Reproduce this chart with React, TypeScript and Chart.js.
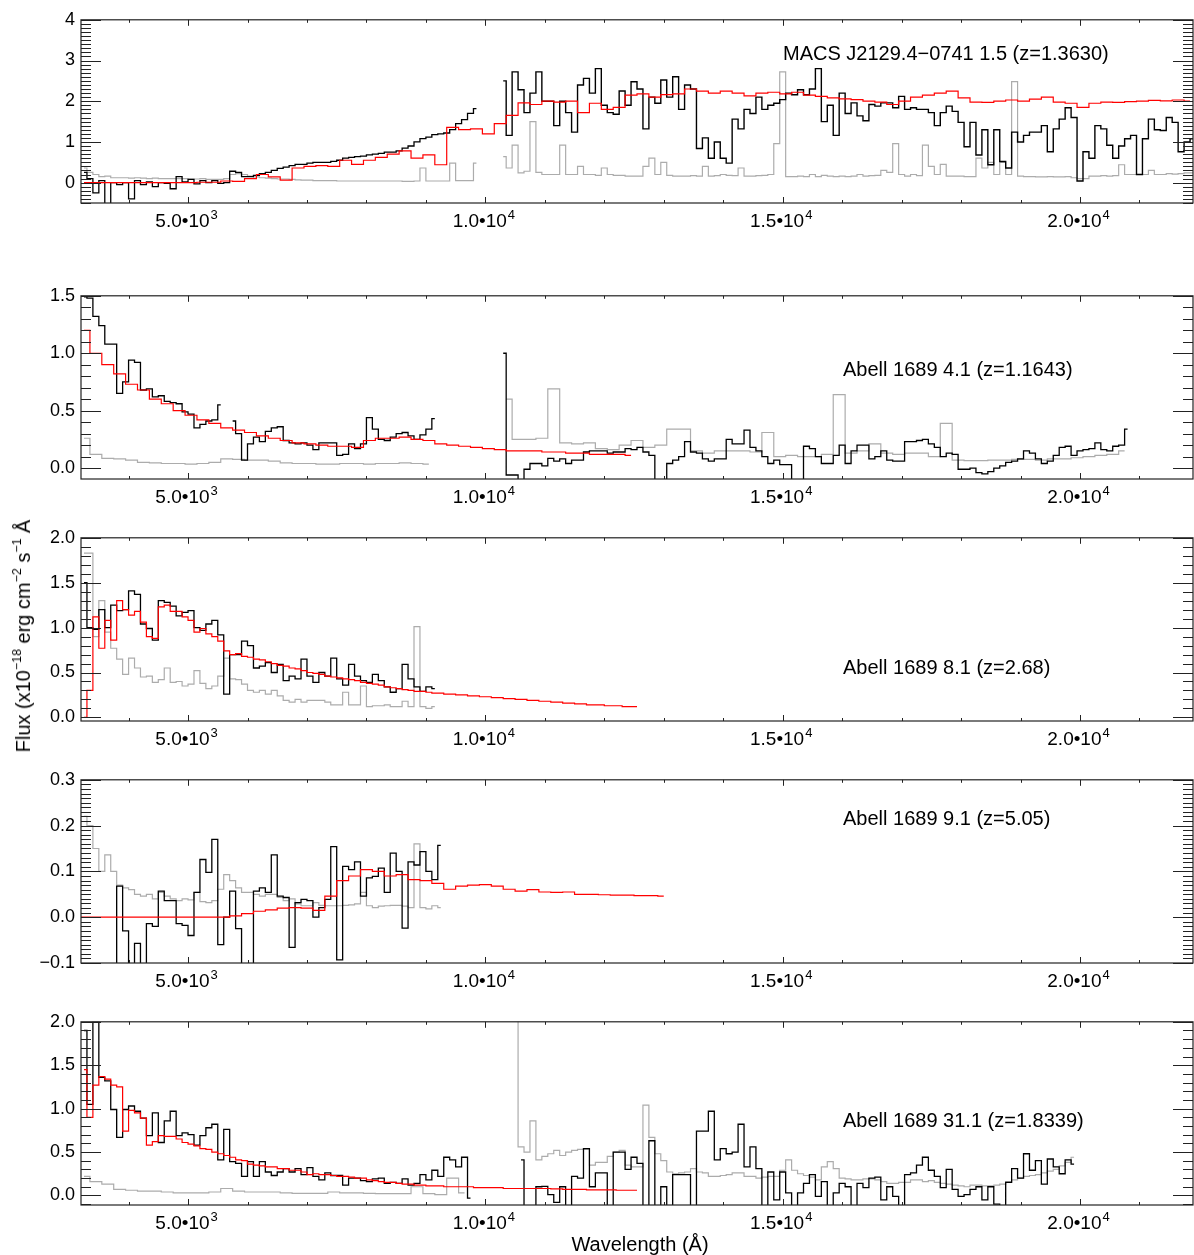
import React, { useEffect, useRef } from 'react';
import { Chart, registerables } from 'chart.js';

Chart.register(...registerables);

const FONT = '"Liberation Sans", Arial, Helvetica, sans-serif';
Chart.defaults.font.family = FONT;

// ---------- X axis (wavelength, Angstrom) ----------
const X_MIN = 3200;
const X_MAX = 21900;
const X_MAJOR_TICKS = [5000, 10000, 15000, 20000];
const X_TICK_MANTISSA = ['5.0•10', '1.0•10', '1.5•10', '2.0•10'];
const X_TICK_EXPONENT = ['3', '4', '4', '4'];
const X_MINOR_STEP = 1000;

// ---------- Panel 1 : MACS J2129.4-0741 1.5 ----------
const P1_BLACK_OPT_START = 3250;
const P1_BLACK_OPT = [0.25, 0.1, -0.25, 0.05, -0.55, 0.0, -0.05, 0.0, -0.4, 0.05,
  -0.05, 0.02, -0.1, 0.0, -0.02, -0.15, 0.15, 0.02, 0.08, -0.03,
  0.05, 0.0, 0.05, -0.02, 0.0, 0.28, 0.25, 0.15, 0.15, 0.18,
  0.22, 0.25, 0.3, 0.35, 0.38, 0.42, 0.45, 0.45, 0.48, 0.5,
  0.5, 0.5, 0.52, 0.55, 0.6, 0.62, 0.64, 0.65, 0.68, 0.7,
  0.72, 0.75, 0.75, 0.78, 0.85, 0.9, 1.0, 1.08, 1.12, 1.18,
  1.2, 1.22, 1.3, 1.45, 1.55, 1.7, 1.82];
const P1_GRAY_OPT_START = 3250;
const P1_GRAY_OPT = [0.36, 0.25, 0.2, 0.15, 0.16, 0.12, 0.12, 0.12, 0.11, 0.12,
  0.11, 0.1, 0.11, 0.1, 0.1, 0.1, 0.1, 0.1, 0.09, 0.09,
  0.1, 0.08, 0.08, 0.08, 0.1, 0.2, 0.22, 0.2, 0.16, 0.14,
  0.12, 0.11, 0.1, 0.09, 0.09, 0.08, 0.07, 0.06, 0.06, 0.05,
  0.05, 0.05, 0.05, 0.04, 0.04, 0.04, 0.04, 0.04, 0.04, 0.04,
  0.04, 0.04, 0.04, 0.04, 0.03, 0.03, 0.04, 0.36, 0.04, 0.04,
  0.04, 0.04, 0.48, 0.05, 0.05, 0.05, 0.48];
const P1_BLACK_IR_START = 10300;
const P1_BLACK_IR = [2.5, 1.16, 2.72, 2.28, 1.72, 2.2, 2.72, 2.0, 2.0, 1.4,
  2.0, 1.72, 1.24, 2.4, 2.56, 2.2, 2.8, 1.9, 1.72, 1.68,
  2.25, 1.9, 2.48, 2.3, 1.32, 2.1, 1.95, 2.52, 2.1, 2.6,
  1.8, 2.4, 2.3, 0.84, 1.1, 0.6, 1.0, 0.6, 0.48, 1.56,
  1.32, 1.8, 1.7, 2.1, 1.8, 1.9, 1.95, 2.04, 2.2, 2.16,
  2.28, 2.16, 2.3, 2.8, 1.5, 1.9, 1.16, 2.2, 1.7, 1.96,
  1.64, 1.52, 1.92, 1.88, 1.96, 1.96, 1.84, 2.12, 1.8, 1.84,
  1.8, 1.8, 1.72, 1.4, 1.72, 1.88, 1.75, 1.48, 0.88, 1.48,
  0.68, 1.3, 0.44, 1.3, 0.52, 0.36, 1.24, 1.0, 1.16, 1.24,
  1.24, 1.4, 0.76, 1.32, 1.56, 1.84, 1.6, 0.04, 0.76, 0.6,
  1.4, 1.32, 0.92, 0.6, 0.9, 1.08, 1.16, 0.2, 1.08, 1.56,
  1.3, 1.28, 1.6, 1.48, 0.76, 1.0, 1.08];
const P1_GRAY_IR_START = 10300;
const P1_GRAY_IR = [0.64, 0.36, 0.92, 0.24, 0.28, 1.5, 0.25, 0.2, 0.2, 0.2,
  0.92, 0.2, 0.2, 0.4, 0.2, 0.2, 0.18, 0.36, 0.2, 0.18,
  0.18, 0.16, 0.16, 0.16, 0.4, 0.6, 0.2, 0.5, 0.18, 0.16,
  0.16, 0.16, 0.17, 0.16, 0.4, 0.16, 0.17, 0.2, 0.18, 0.17,
  0.36, 0.16, 0.16, 0.17, 0.18, 0.2, 0.96, 2.72, 0.15, 0.15,
  0.16, 0.15, 0.2, 0.15, 0.18, 0.16, 0.15, 0.16, 0.15, 0.16,
  0.2, 0.16, 0.17, 0.18, 0.3, 0.25, 0.96, 0.2, 0.16, 0.2,
  0.17, 0.92, 0.4, 0.2, 0.45, 0.16, 0.16, 0.16, 0.15, 0.15,
  0.6, 0.36, 0.5, 0.2, 0.5, 0.2, 2.48, 0.16, 0.15, 0.15,
  0.14, 0.14, 0.15, 0.14, 0.14, 0.15, 0.12, 0.1, 0.1, 0.16,
  0.16, 0.17, 0.16, 0.17, 0.44, 0.2, 0.2, 0.2, 0.2, 0.3,
  0.2, 0.2, 0.22, 0.21, 0.22, 0.24, 0.24];
const P1_RED_START = 3250;
const P1_RED = [0, 0, 0, 0, 0, 0, 0, 0, 0, 0,
  0.01, 0.01, 0.04, 0.03, 0.1, 0.2, 0.14, 0.06, 0.36, 0.4,
  0.42, 0.4, 0.55, 0.45, 0.55, 0.62, 0.7, 0.78, 0.6, 0.68,
  0.44, 1.36, 1.3, 1.32, 1.2, 1.45, 1.65, 1.96, 1.92, 2.0,
  1.98, 2.0, 1.72, 1.95, 1.8, 1.85, 2.15, 2.18, 2.1, 2.16,
  2.18, 2.3, 2.25, 2.2, 2.25, 2.2, 2.13, 2.2, 2.22, 2.18,
  2.22, 2.15, 2.12, 2.08, 2.06, 2.04, 2.0, 1.98, 1.92, 2.0,
  2.1, 2.15, 2.2, 2.25, 2.08, 1.98, 1.97, 2.0, 2.03, 2.0,
  2.05, 2.1, 1.98, 1.95, 1.85, 1.95, 1.98, 1.97, 1.99, 2.0,
  2.02, 2.01, 2.03, 2.0];
const P1_Y_TICKS = [0, 1, 2, 3, 4];
const P1_Y_LABELS = ['0', '1', '2', '3', '4'];

// ---------- Panel 2 : Abell 1689 4.1 ----------
const P2_BLACK_OPT_START = 3250;
const P2_BLACK_OPT = [1.49, 1.48, 1.32, 1.24, 1.08, 1.08, 0.65, 0.75, 0.94, 0.92,
  0.68, 0.69, 0.62, 0.63, 0.58, 0.57, 0.56, 0.49, 0.47, 0.35,
  0.38, 0.41, 0.42, 0.55, null, 0.41, 0.3, 0.07, 0.21, 0.27,
  0.23, 0.32, 0.35, 0.36, 0.24, 0.22, 0.21, 0.22, 0.2, 0.16,
  0.22, 0.22, 0.22, 0.11, 0.12, 0.21, 0.17, 0.21, 0.44, 0.34,
  0.25, 0.24, 0.27, 0.3, 0.31, 0.28, 0.25, 0.29, 0.34, 0.43];
const P2_BLACK_IR_START = 10300;
const P2_BLACK_IR = [1.0, -0.06, -0.06, -0.15, -0.01, 0.04, 0.04, 0.02, 0.085, 0.06,
  0.08, 0.04, 0.07, 0.07, 0.14, 0.15, 0.15, 0.15, 0.13, 0.14,
  0.14, 0.17, 0.16, 0.18, 0.14, 0.11, -0.15, -0.15, 0.04, 0.07,
  0.1, 0.23, 0.14, 0.13, 0.08, 0.06, 0.08, 0.08, 0.25, 0.21,
  0.21, 0.33, 0.18, 0.15, 0.1, 0.04, 0.07, 0.03, 0.03, -0.15,
  -0.15, 0.19, 0.17, 0.1, 0.04, 0.04, 0.11, 0.2, 0.04, 0.15,
  0.2, 0.2, 0.08, 0.1, 0.15, 0.07, 0.06, 0.06, 0.23, 0.23,
  0.24, 0.25, 0.21, 0.18, 0.1, 0.13, 0.12, -0.01, -0.01, 0.0,
  -0.04, -0.05, -0.03, 0.0, 0.02, 0.05, 0.06, 0.08, 0.15, 0.13,
  0.08, 0.04, 0.06, 0.11, 0.18, 0.19, 0.11, 0.15, 0.16, 0.17,
  0.22, 0.16, 0.15, 0.19, 0.2, 0.34];
const P2_RED_START = 3250;
const P2_RED = [1.2, 1.0, 0.9, 0.82, 0.73, 0.68, 0.6, 0.56, 0.5, 0.46,
  0.42, 0.39, 0.35, 0.33, 0.31, 0.28, 0.26, 0.24, 0.22, 0.21,
  0.2, 0.19, 0.19, 0.18, 0.24, 0.26, 0.26, 0.27, 0.25, 0.24,
  0.21, 0.2, 0.19, 0.18, 0.17, 0.16, 0.15, 0.15, 0.15, 0.14,
  0.14, 0.13, 0.13, 0.12, 0.12, 0.12, 0.11];
const P2_GRAY_OPT_START = 3250;
const P2_GRAY_OPT = [0.26, 0.12, 0.085, 0.08, 0.07, 0.05, 0.045, 0.04, 0.04, 0.035,
  0.04, 0.05, 0.08, 0.075, 0.07, 0.07, 0.06, 0.045, 0.04, 0.04,
  0.035, 0.035, 0.04, 0.04, 0.035, 0.04, 0.04, 0.045, 0.04, 0.035];
const P2_GRAY_IR_START = 10350;
const P2_GRAY_IR = [0.6, 0.25, 0.25, 0.26, 0.69, 0.22, 0.21, 0.22, 0.17, 0.16,
  0.2, 0.24, 0.18, 0.2, 0.34, 0.34, 0.15, 0.13, 0.15, 0.15,
  0.15, 0.14, 0.31, 0.1, 0.11, 0.1, 0.1, 0.12, 0.64, 0.13,
  0.15, 0.21, 0.13, 0.12, 0.13, 0.13, 0.1, 0.39, 0.07, 0.065,
  0.065, 0.07, 0.07, 0.075, 0.075, 0.07, 0.08, 0.08, 0.09, 0.1,
  0.11, 0.12, 0.15];
const P2_Y_TICKS = [0, 0.5, 1.0, 1.5];
const P2_Y_LABELS = ['0.0', '0.5', '1.0', '1.5'];

// ---------- Panel 3 : Abell 1689 8.1 ----------
const P3_BLACK_START = 3250;
const P3_BLACK = [1.5, 1.0, 0.98, 1.2, 1.0, 1.25, 1.19, 1.2, 1.41, 1.37,
  1.04, 0.99, 0.86, 1.3, 1.28, 1.24, 1.13, 1.17, 1.19, 1.0,
  0.97, 1.04, 1.08, 0.92, 0.26, 0.7, 0.7, 0.85, 0.8, 0.55,
  0.57, 0.61, 0.5, 0.59, 0.41, 0.46, 0.43, 0.65, 0.46, 0.39,
  0.5, 0.46, 0.66, 0.43, 0.36, 0.59, 0.46, 0.41, 0.39, 0.48,
  0.41, 0.34, 0.28, 0.32, 0.59, 0.43, 0.34, 0.29, 0.34, 0.32];
const P3_GRAY_START = 3250;
const P3_GRAY = [1.83, 1.83, 0.9, 1.3, 0.95, 0.77, 0.65, 0.48, 0.66, 0.55,
  0.45, 0.46, 0.39, 0.42, 0.55, 0.39, 0.4, 0.35, 0.37, 0.52,
  0.38, 0.32, 0.35, 0.46, 0.66, 0.43, 0.42, 0.37, 0.3, 0.28,
  0.3, 0.26, 0.3, 0.24, 0.19, 0.17, 0.2, 0.17, 0.19, 0.19,
  0.19, 0.17, 0.14, 0.14, 0.28, 0.14, 0.14, 0.35, 0.12, 0.13,
  0.13, 0.14, 0.12, 0.12, 0.18, 0.12, 1.01, 0.12, 0.1, 0.12];
const P3_RED_START = 3250;
const P3_RED = [0, 0.3, 1.12, 0.77, 1.08, 0.86, 1.3, 1.2, 1.14, 1.18,
  1.06, 0.9, 0.88, 1.23, 1.25, 1.18, 1.18, 1.12, 1.08, 0.95,
  0.99, 0.93, 0.9, 0.85, 0.74, 0.7, 0.71, 0.68, 0.67, 0.65,
  0.64, 0.62, 0.6, 0.58, 0.57, 0.55, 0.54, 0.52, 0.5, 0.49,
  0.48, 0.46, 0.45, 0.44, 0.43, 0.42, 0.41, 0.39, 0.38, 0.37,
  0.36, 0.34, 0.33, 0.32, 0.31, 0.3, 0.29, 0.29, 0.28, 0.27,
  0.27, 0.26, 0.26, 0.25, 0.25, 0.24, 0.24, 0.23, 0.23, 0.22,
  0.22, 0.21, 0.21, 0.2, 0.2, 0.19, 0.19, 0.18, 0.18, 0.17,
  0.17, 0.16, 0.16, 0.15, 0.15, 0.14, 0.14, 0.14, 0.13, 0.13,
  0.13, 0.12, 0.12, 0.12];
const P3_Y_TICKS = [0, 0.5, 1.0, 1.5, 2.0];
const P3_Y_LABELS = ['0.0', '0.5', '1.0', '1.5', '2.0'];

// ---------- Panel 4 : Abell 1689 9.1 ----------
const P4_BLACK_START = 3750;
const P4_BLACK = [-0.15, 0.068, -0.03, -0.15, -0.057, -0.15, -0.014, -0.02, 0.057, 0.036,
  0.036, -0.014, -0.018, -0.04, 0.054, 0.126, 0.098, 0.17, -0.06, 0.0,
  0.057, -0.025, -0.15, -0.15, 0.057, 0.064, 0.054, 0.136, 0.046, 0.043,
  -0.066, 0.032, 0.039, 0.036, 0.0, 0.021, 0.039, 0.154, -0.093, 0.111,
  0.104, 0.121, 0.046, 0.086, 0.089, 0.107, 0.054, 0.14, 0.1, -0.024,
  0.121, 0.114, 0.143, 0.1, 0.082, 0.157];
const P4_GRAY_START = 3250;
const P4_GRAY = [0.22, 0.2, 0.15, 0.1, 0.136, 0.1, 0.07, 0.064, 0.06, 0.05,
  0.046, 0.05, 0.04, 0.054, 0.046, 0.04, 0.036, 0.04, 0.038, 0.054,
  0.034, 0.032, 0.036, 0.061, 0.093, 0.08, 0.064, 0.054, 0.054, 0.05,
  0.046, 0.05, 0.05, 0.043, 0.036, 0.04, 0.029, 0.025, 0.025, 0.032,
  0.026, 0.025, 0.025, 0.025, 0.026, 0.027, 0.029, 0.054, 0.025, 0.021,
  0.024, 0.025, 0.026, 0.026, 0.024, 0.021, 0.16, 0.021, 0.018, 0.025,
  0.021];
const P4_RED_START = 3200;
const P4_RED = [0, 0, 0, 0, 0, 0, 0, 0, 0, 0,
  0, 0, 0, 0.003, 0.008, 0.013, 0.016, 0.02, 0.021, 0.02,
  0.015, 0.046, 0.08, 0.09, 0.104, 0.1, 0.09, 0.093, 0.082, 0.08,
  0.074, 0.061, 0.068, 0.07, 0.071, 0.068, 0.061, 0.057, 0.06, 0.055,
  0.054, 0.055, 0.05, 0.05, 0.049, 0.048, 0.048, 0.047, 0.047, 0.046];
const P4_Y_TICKS = [-0.1, 0.0, 0.1, 0.2, 0.3];
const P4_Y_LABELS = ['−0.1', '0.0', '0.1', '0.2', '0.3'];

// ---------- Panel 5 : Abell 1689 31.1 ----------
const P5_BLACK_OPT_START = 3250;
const P5_BLACK_OPT = [1.9, 1.05, 2.0, 1.36, 1.32, 0.99, 0.67, 0.99, 1.03, 0.97,
  0.89, 0.69, 0.95, 0.61, 0.86, 0.97, 0.69, 0.72, 0.7, 0.58,
  0.69, 0.78, 0.82, 0.41, 0.76, 0.39, 0.37, 0.22, 0.39, 0.22,
  0.39, 0.27, 0.23, 0.27, 0.31, 0.27, 0.31, 0.24, 0.32, 0.22,
  0.18, 0.26, 0.23, 0.23, 0.12, 0.2, 0.2, 0.17, 0.16, 0.19,
  0.2, 0.14, 0.15, 0.14, 0.19, 0.12, 0.14, 0.24, 0.18, 0.29,
  0.22, 0.44, 0.41, 0.33, 0.44, -0.03];
const P5_BLACK_IR_START = 10600;
const P5_BLACK_IR = [0.41, -0.15, -0.15, 0.1, 0.105, 0.01, -0.08, 0.1, -0.15, 0.22,
  0.2, 0.54, 0.1, 0.26, 0.26, -0.15, 0.5, 0.5, 0.3, 0.44,
  0.37, -0.15, 0.63, -0.15, 0.1, -0.15, 0.24, 0.24, 0.24, -0.15,
  0.74, 0.74, 0.97, 0.41, 0.54, 0.48, 0.5, 0.82, 0.33, 0.56,
  0.31, -0.15, 0.27, -0.05, 0.27, 0.03, -0.15, 0.03, 0.14, 0.24,
  -0.01, 0.16, -0.15, 0.03, 0.14, 0.1, -0.15, 0.14, 0.09, 0.2,
  0.21, -0.05, 0.1, -0.01, -0.15, 0.24, 0.26, 0.35, 0.44, 0.29,
  0.22, 0.09, 0.3, 0.07, -0.01, 0.01, 0.07, 0.1, -0.05, 0.1,
  -0.1, -0.15, 0.15, 0.31, 0.2, 0.48, 0.29, 0.4, 0.13, 0.42,
  0.33, 0.25, 0.41, 0.36];
const P5_RED_START = 3250;
const P5_RED = [1.45, 0.9, 1.27, 1.37, 1.34, 1.27, 1.25, 0.74, 0.98, 0.95,
  0.89, 0.58, 0.62, 0.69, 0.68, 0.68, 0.65, 0.61, 0.59, 0.57,
  0.54, 0.53, 0.5, 0.48, 0.46, 0.44, 0.41, 0.4, 0.36, 0.35,
  0.34, 0.33, 0.33, 0.31, 0.31, 0.29, 0.29, 0.27, 0.24, 0.25,
  0.24, 0.24, 0.23, 0.22, 0.22, 0.21, 0.2, 0.2, 0.18, 0.17,
  0.16, 0.15, 0.15, 0.14, 0.13, 0.13, 0.12, 0.12, 0.11, 0.11,
  0.11, 0.1, 0.1, 0.1, 0.1, 0.1, 0.09, 0.09, 0.09, 0.09,
  0.09, 0.08, 0.08, 0.08, 0.08, 0.08, 0.08, 0.08, 0.08, 0.075,
  0.075, 0.07, 0.07, 0.07, 0.07, 0.065, 0.065, 0.065, 0.065, 0.065,
  0.06, 0.06, 0.06, 0.06];
const P5_GRAY_OPT_START = 3250;
const P5_GRAY_OPT = [0.22, 0.16, 0.13, 0.07, 0.06, 0.05, 0.05, 0.04, 0.03, 0.03,
  0.03, 0.04, 0.08, 0.05, 0.04, 0.04, 0.04, 0.03, 0.025, 0.025,
  0.025, 0.04, 0.03, 0.03, 0.025, 0.02, 0.02, 0.02, 0.1, 0.02,
  0.01, 0.2, 0.03];
const P5_GRAY_IR_START = 10500;
const P5_GRAY_IR = [2.1, 0.56, 0.5, 0.86, 0.41, 0.45, 0.48, 0.52, 0.46, 0.5,
  0.52, 0.53, 0.53, 0.35, 0.38, 0.38, 0.45, 0.5, 0.52, 0.35,
  0.33, 0.33, 1.04, 0.67, 0.48, 0.4, 0.27, 0.25, 0.26, 0.27,
  0.31, 0.27, 0.26, 0.22, 0.22, 0.23, 0.24, 0.26, 0.26, 0.22,
  0.22, 0.2, 0.21, 0.22, 0.22, 0.29, 0.41, 0.29, 0.25, 0.23,
  0.21, 0.18, 0.33, 0.39, 0.31, 0.2, 0.19, 0.18, 0.18, 0.19,
  0.19, 0.18, 0.16, 0.14, 0.14, 0.15, 0.15, 0.18, 0.18, 0.16,
  0.17, 0.15, 0.14, 0.13, 0.12, 0.11, 0.1, 0.12, 0.12, 0.11,
  0.11, 0.12, 0.13, 0.16, 0.18, 0.2, 0.22, 0.23, 0.24, 0.26,
  0.28, 0.3, 0.34, 0.38, 0.44];
const P5_Y_TICKS = [0, 0.5, 1.0, 1.5, 2.0];
const P5_Y_LABELS = ['0.0', '0.5', '1.0', '1.5', '2.0'];

const TITLES = [
  'MACS J2129.4−0741 1.5 (z=1.3630)',
  'Abell 1689 4.1 (z=1.1643)',
  'Abell 1689 8.1 (z=2.68)',
  'Abell 1689 9.1 (z=5.05)',
  'Abell 1689 31.1 (z=1.8339)',
];

// ---------- styling / layout ----------
const RED = '#ff0000';
const BLACK = '#000000';
const GRAY = '#acacac';
const PLOT_LEFT = 81;
const CANVAS_W = 1194;
const PAD_TOP = 12;
const PLOT_H = 188;
const X_AXIS_H = 40;

type Series = { start: number; step: number; values: (number | null)[]; color: string; width: number };
type PanelSpec = {
  top: number; yMin: number; yMax: number; yTicks: number[]; yLabels: string[]; yMinor: number;
  series: Series[]; title: string; titleX: number; titleDy: number;
};

const S = (start: number, step: number, values: (number | null)[], color: string, width: number): Series =>
  ({ start, step, values, color, width });

// datasets listed first are drawn on top
const PANELS: PanelSpec[] = [
  {
    top: 15, yMin: -0.5, yMax: 4, yTicks: P1_Y_TICKS, yLabels: P1_Y_LABELS, yMinor: 0.1,
    series: [
      S(P1_RED_START, 200, P1_RED, RED, 1.2),
      S(P1_BLACK_OPT_START, 100, P1_BLACK_OPT, BLACK, 1.3),
      S(P1_BLACK_IR_START, 100, P1_BLACK_IR, BLACK, 1.4),
      S(P1_GRAY_OPT_START, 100, P1_GRAY_OPT, GRAY, 1.2),
      S(P1_GRAY_IR_START, 100, P1_GRAY_IR, GRAY, 1.2),
    ],
    title: TITLES[0], titleX: 783, titleDy: 35,
  },
  {
    top: 291, yMin: -0.095, yMax: 1.5, yTicks: P2_Y_TICKS, yLabels: P2_Y_LABELS, yMinor: 0.1,
    series: [
      S(P2_RED_START, 200, P2_RED, RED, 1.2),
      S(P2_BLACK_OPT_START, 100, P2_BLACK_OPT, BLACK, 1.3),
      S(P2_BLACK_IR_START, 100, P2_BLACK_IR, BLACK, 1.3),
      S(P2_GRAY_OPT_START, 200, P2_GRAY_OPT, GRAY, 1.2),
      S(P2_GRAY_IR_START, 200, P2_GRAY_IR, GRAY, 1.2),
    ],
    title: TITLES[1], titleX: 843, titleDy: 75,
  },
  {
    top: 533, yMin: -0.04, yMax: 2.0, yTicks: P3_Y_TICKS, yLabels: P3_Y_LABELS, yMinor: 0.1,
    series: [
      S(P3_RED_START, 100, P3_RED, RED, 1.2),
      S(P3_BLACK_START, 100, P3_BLACK, BLACK, 1.3),
      S(P3_GRAY_START, 100, P3_GRAY, GRAY, 1.2),
    ],
    title: TITLES[2], titleX: 843, titleDy: 131,
  },
  {
    top: 775, yMin: -0.1, yMax: 0.3, yTicks: P4_Y_TICKS, yLabels: P4_Y_LABELS, yMinor: 0.01,
    series: [
      S(P4_RED_START, 200, P4_RED, RED, 1.2),
      S(P4_BLACK_START, 100, P4_BLACK, BLACK, 1.3),
      S(P4_GRAY_START, 100, P4_GRAY, GRAY, 1.2),
    ],
    title: TITLES[3], titleX: 843, titleDy: 40,
  },
  {
    top: 1017, yMin: -0.11, yMax: 2.0, yTicks: P5_Y_TICKS, yLabels: P5_Y_LABELS, yMinor: 0.1,
    series: [
      S(P5_RED_START, 100, P5_RED, RED, 1.2),
      S(P5_BLACK_OPT_START, 100, P5_BLACK_OPT, BLACK, 1.3),
      S(P5_BLACK_IR_START, 100, P5_BLACK_IR, BLACK, 1.3),
      S(P5_GRAY_OPT_START, 200, P5_GRAY_OPT, GRAY, 1.2),
      S(P5_GRAY_IR_START, 100, P5_GRAY_IR, GRAY, 1.2),
    ],
    title: TITLES[4], titleX: 843, titleDy: 100,
  },
];

function makePlugins(p: PanelSpec) {
  const frame = {
    id: 'idlFrame',
    afterDatasetsDraw(chart: any) {
      const { ctx, chartArea: a, scales } = chart;
      const xs = scales.x;
      const ys = scales.y;
      ctx.save();
      ctx.strokeStyle = '#222';
      ctx.lineWidth = 1;
      ctx.beginPath();
      // y ticks on left & right, pointing inward
      const k0 = Math.ceil(p.yMin / p.yMinor - 1e-6);
      const k1 = Math.floor(p.yMax / p.yMinor + 1e-6);
      for (let k = k0; k <= k1; k++) {
        const v = k * p.yMinor;
        const major = p.yTicks.some((t) => Math.abs(t - v) < p.yMinor / 10);
        const len = major ? 20 : 10;
        const py = Math.round(ys.getPixelForValue(v)) + 0.5;
        ctx.moveTo(a.left, py); ctx.lineTo(a.left + len, py);
        ctx.moveTo(a.right, py); ctx.lineTo(a.right - len, py);
      }
      // x ticks on bottom & top
      for (let v = Math.ceil(X_MIN / X_MINOR_STEP) * X_MINOR_STEP; v <= X_MAX; v += X_MINOR_STEP) {
        const major = X_MAJOR_TICKS.includes(v);
        const len = major ? 6 : 3;
        const px = Math.round(xs.getPixelForValue(v)) + 0.5;
        ctx.moveTo(px, a.bottom); ctx.lineTo(px, a.bottom - len);
        ctx.moveTo(px, a.top); ctx.lineTo(px, a.top + len);
      }
      ctx.stroke();
      ctx.lineWidth = 1.2;
      ctx.strokeRect(a.left, a.top, a.right - a.left, a.bottom - a.top);
      ctx.restore();
    },
    afterDraw(chart: any) {
      // x tick labels with a real superscript exponent
      const { ctx, chartArea: a, scales } = chart;
      const xs = scales.x;
      ctx.save();
      ctx.fillStyle = '#000';
      ctx.textBaseline = 'middle';
      ctx.textAlign = 'left';
      X_MAJOR_TICKS.forEach((v, i) => {
        const base = X_TICK_MANTISSA[i];
        const exp = X_TICK_EXPONENT[i];
        ctx.font = `19px ${FONT}`;
        const wb = ctx.measureText(base).width;
        ctx.font = `13px ${FONT}`;
        const we = ctx.measureText(exp).width;
        const px = xs.getPixelForValue(v);
        const x0 = px - (wb + we) / 2 - 2;
        const yc = a.bottom + 19;
        ctx.font = `19px ${FONT}`;
        ctx.fillText(base, x0, yc);
        ctx.font = `13px ${FONT}`;
        ctx.fillText(exp, x0 + wb + 1, yc - 7);
      });
      ctx.restore();
    },
  };
  const note = {
    id: 'note',
    afterDraw(chart: any) {
      const { ctx, chartArea: a } = chart;
      ctx.save();
      ctx.font = `20px ${FONT}`;
      ctx.fillStyle = '#000';
      ctx.textAlign = 'left';
      ctx.textBaseline = 'middle';
      ctx.fillText(p.title, p.titleX, a.top + p.titleDy);
      ctx.restore();
    },
  };
  return [frame, note];
}

function buildConfig(p: PanelSpec): any {
  const datasets = p.series.map((s) => ({
    data: s.values.map((v, i) => ({ x: s.start + i * s.step, y: v })),
    borderColor: s.color,
    backgroundColor: s.color,
    borderWidth: s.width,
    pointRadius: 0,
    stepped: 'middle',
    fill: false,
    spanGaps: false,
    borderJoinStyle: 'miter',
    clip: 0,
  }));
  return {
    type: 'line',
    data: { datasets },
    plugins: makePlugins(p),
    options: {
      responsive: false,
      animation: false,
      events: [],
      layout: { padding: { top: PAD_TOP, right: 1, left: 0, bottom: 0 } },
      plugins: { legend: { display: false }, tooltip: { enabled: false }, title: { display: false } },
      scales: {
        x: {
          type: 'linear',
          min: X_MIN,
          max: X_MAX,
          grid: { display: false, drawTicks: false },
          border: { display: false },
          afterBuildTicks: (sc: any) => { sc.ticks = X_MAJOR_TICKS.map((v) => ({ value: v })); },
          afterFit: (sc: any) => { sc.height = X_AXIS_H; },
          ticks: { display: false },
        },
        y: {
          type: 'linear',
          min: p.yMin,
          max: p.yMax,
          grid: { display: false, drawTicks: false },
          border: { display: false },
          afterBuildTicks: (sc: any) => { sc.ticks = p.yTicks.map((v) => ({ value: v })); },
          afterFit: (sc: any) => { sc.width = PLOT_LEFT; },
          ticks: {
            autoSkip: false,
            padding: 6,
            color: '#000',
            font: { size: 18, family: FONT },
            callback: (_v: any, i: number) => p.yLabels[i],
          },
        },
      },
    },
  };
}

function Panel({ spec }: { spec: PanelSpec }) {
  const ref = useRef<HTMLCanvasElement>(null);
  useEffect(() => {
    if (!ref.current) return;
    const chart = new Chart(ref.current, buildConfig(spec));
    return () => chart.destroy();
  }, [spec]);
  const h = PAD_TOP + PLOT_H + X_AXIS_H;
  return (
    <canvas
      ref={ref}
      width={CANVAS_W}
      height={h}
      style={{ position: 'absolute', left: 0, top: spec.top - PAD_TOP, width: CANVAS_W, height: h }}
    />
  );
}

const supStyle: React.CSSProperties = { fontSize: '0.62em', verticalAlign: '0.75em', lineHeight: 0 };

export default function App() {
  return (
    <div style={{ position: 'absolute', left: 0, top: 0, width: 1194, height: 1255, background: '#fff', overflow: 'hidden' }}>
      {PANELS.map((p, i) => <Panel key={i} spec={p} />)}
      <div
        style={{
          position: 'absolute', left: 23, top: 636, transform: 'translate(-50%, -50%) rotate(-90deg)',
          whiteSpace: 'nowrap', font: `20px ${FONT}`, color: '#000', lineHeight: '24px',
        }}
      >
        Flux (x10<span style={supStyle}>−18</span> erg cm<span style={supStyle}>−2</span> s<span style={supStyle}>−1</span> Å
      </div>
      <div
        style={{
          position: 'absolute', left: 640, top: 1244, transform: 'translate(-50%, -50%)',
          whiteSpace: 'nowrap', font: `20px ${FONT}`, color: '#000', lineHeight: '24px',
        }}
      >
        Wavelength (Å)
      </div>
    </div>
  );
}
